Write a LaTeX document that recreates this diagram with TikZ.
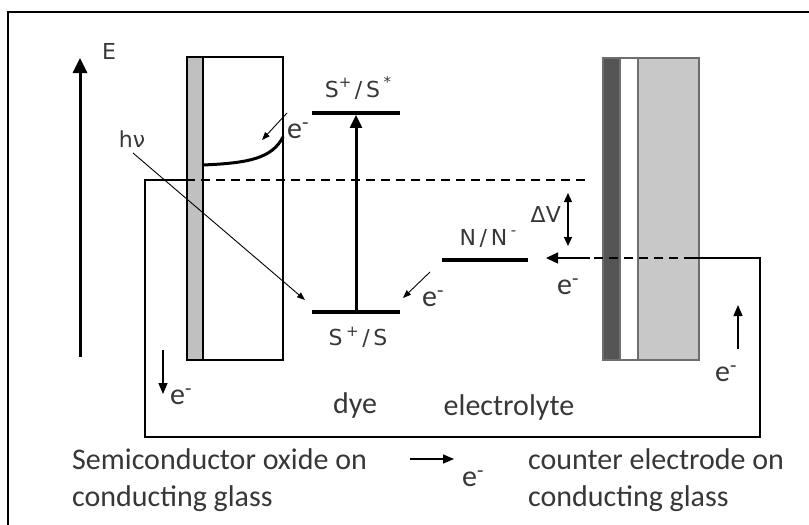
\documentclass[tikz,border=0pt]{standalone}
\usepackage{fontspec}
\setmainfont{Carlito}
\newfontfamily\symfont{DejaVu Sans}
\usetikzlibrary{arrows.meta}
\definecolor{stripgrey}{RGB}{192,192,192}
\definecolor{cedark}{RGB}{85,85,85}
\definecolor{celight}{RGB}{200,200,200}
\definecolor{cerim}{RGB}{110,110,110}
\definecolor{txtgrey}{RGB}{55,55,55}
\newcommand{\hisup}[1]{\raisebox{0.42em}{\fontsize{15}{15}\selectfont #1}}
\tikzset{
  frameline/.style={line width=1.4pt, black},
  plate/.style    ={rectangle, draw=black, line width=1.3pt, inner sep=0pt,
                    minimum width=96pt, minimum height=303pt},
  ceplate/.style  ={rectangle, draw=cerim, line width=1.2pt, inner sep=0pt,
                    minimum height=302pt},
  level/.style    ={rectangle, fill=black, inner sep=0pt, minimum height=3.5pt},
  wire/.style     ={line width=1.4pt, black},
  fermi/.style    ={line width=1.2pt, black, dash pattern=on 9pt off 6pt},
  band/.style     ={line width=3pt, black, line cap=round},
  axisarrow/.style={line width=3pt, -{Triangle[length=15pt, width=14pt]}},
  excite/.style   ={line width=3pt, -{Triangle[length=13pt, width=12pt]}},
  thinarrow/.style={line width=0.9pt, -{Triangle[length=8pt, width=6pt]}},
  flowarrow/.style={line width=1.3pt, -{Triangle[length=11pt, width=9pt]}},
  dvarrow/.style  ={line width=1.3pt, {Triangle[length=9pt, width=8pt]}-{Triangle[length=9pt, width=8pt]}},
  lbl/.style      ={inner sep=0pt, text=txtgrey, font=\fontsize{30}{37}\selectfont},
  elbl/.style     ={lbl},
  symlbl/.style   ={inner sep=0pt, text=txtgrey, font=\symfont\fontsize{22}{26}\selectfont},
}

\begin{document}
\begin{tikzpicture}[x=1pt, y=-1pt]
  \useasboundingbox (0,0) rectangle (809,525);

  % ---- frame ---------------------------------------------------------------
  \draw[frameline] (8,525) -- (8,12) -- (809,12);

  % ---- energy axis ---------------------------------------------------------
  \coordinate (Ebot) at (80,357);
  \coordinate (Etop) at (80,58);
  \draw[axisarrow] (Ebot) -- (Etop);
  \node[symlbl] (lblE) at (109,51) {E};

  % ---- semiconductor oxide on conducting glass -----------------------------
  \node[plate] (sc) at (235,208.5) {};
  \node[plate, fill=stripgrey, minimum width=16pt] (scstrip) at (195,208.5) {};
  \draw[band] (203,165) .. controls (250,163) and (272,158) .. (283,137);

  % ---- counter electrode ---------------------------------------------------
  \node[ceplate, fill=white,    minimum width=96pt] (ce)      at (651,209) {};
  \node[ceplate, fill=cedark,   minimum width=17pt] (cedk)    at (611.5,209) {};
  \node[ceplate, fill=celight,  minimum width=61pt] (celt)    at (668.5,209) {};

  % ---- dye levels ----------------------------------------------------------
  \node[level, minimum width=88pt] (sstar)   at (356,113) {};
  \node[level, minimum width=88pt] (sground) at (356,312) {};
  \draw[excite] (sground.north) -- (sstar.south);
  \node[symlbl] (lblstar)   at (358,88)  {S\hisup{+}\,/\,S\,\hisup{*}};
  \node[symlbl] (lblground) at (358,337) {S\,\hisup{+}\,/\,S};

  % ---- electrolyte level ---------------------------------------------------
  \node[level, minimum width=86pt] (nn) at (485,260) {};
  \node[symlbl] (lblnn) at (488,238) {N\,/\,N\,\hisup{-}};
  \coordinate (dvT) at (568,193);
  \coordinate (dvB) at (568,246);
  \draw[dvarrow] (dvT) -- (dvB);
  \node[symlbl, anchor=east] (lbldv) at (561,214) {ΔV};

  % ---- fermi level and outer circuit ---------------------------------------
  \coordinate (wTL)  at (145,180);
  \coordinate (wBL)  at (145,437);
  \coordinate (wBR)  at (760,437);
  \coordinate (wTR)  at (760,258);
  \coordinate (wIn)  at (693,258);
  \coordinate (wOut) at (590,258);
  \coordinate (nnIn) at (546,258);
  \draw[fermi] (scstrip.west |- wTL) -- (590,180);
  \draw[wire] (scstrip.west |- wTL) -- (wTL) -- (wBL) -- (wBR) -- (wTR) -- (wIn);
  \draw[fermi] (wIn) -- (wOut);
  \draw[wire, -{Triangle[length=12pt, width=11pt]}] (wOut) -- (nnIn);

  % ---- light and electron transfer -----------------------------------------
  \node[symlbl] (lblhv) at (132,139) {hν};
  \coordinate (hvS) at (133,153);
  \coordinate (hvE) at (305,300);
  \draw[thinarrow] (hvS) -- (hvE);

  \coordinate (injS) at (287,113);
  \coordinate (injE) at (262,140);
  \draw[thinarrow] (injS) -- (injE);
  \node[elbl] (einj) at (298,131) {e\textsuperscript{-}};

  \coordinate (regS) at (430,272);
  \coordinate (regE) at (403,298);
  \draw[thinarrow] (regS) -- (regE);
  \node[elbl] (ereg) at (433,299) {e\textsuperscript{-}};
  \node[elbl] (ece)  at (568,287) {e\textsuperscript{-}};

  % ---- current in the outer circuit ----------------------------------------
  \coordinate (dnS) at (163,350);
  \coordinate (dnE) at (163,394);
  \draw[flowarrow] (dnS) -- (dnE);
  \node[elbl] (edn) at (181,397) {e\textsuperscript{-}};

  \coordinate (upS) at (738,349);
  \coordinate (upE) at (738,305);
  \draw[flowarrow] (upS) -- (upE);
  \node[elbl] (eup) at (726,374) {e\textsuperscript{-}};

  \coordinate (btS) at (410,459);
  \coordinate (btE) at (454,459);
  \draw[flowarrow] (btS) -- (btE);
  \node[elbl] (ebt) at (473,479) {e\textsuperscript{-}};

  % ---- captions ------------------------------------------------------------
  \node[lbl] (lbldye) at (355,405) {dye};
  \node[lbl] (lblel)  at (509,407) {electrolyte};
  \node[lbl, anchor=north west, align=left] (lblsc) at (72,448)
    {Semiconductor oxide on\\conducting glass};
  \node[lbl, anchor=north west, align=left] (lblce) at (528,448)
    {counter electrode on\\conducting glass};
\end{tikzpicture}
\end{document}
